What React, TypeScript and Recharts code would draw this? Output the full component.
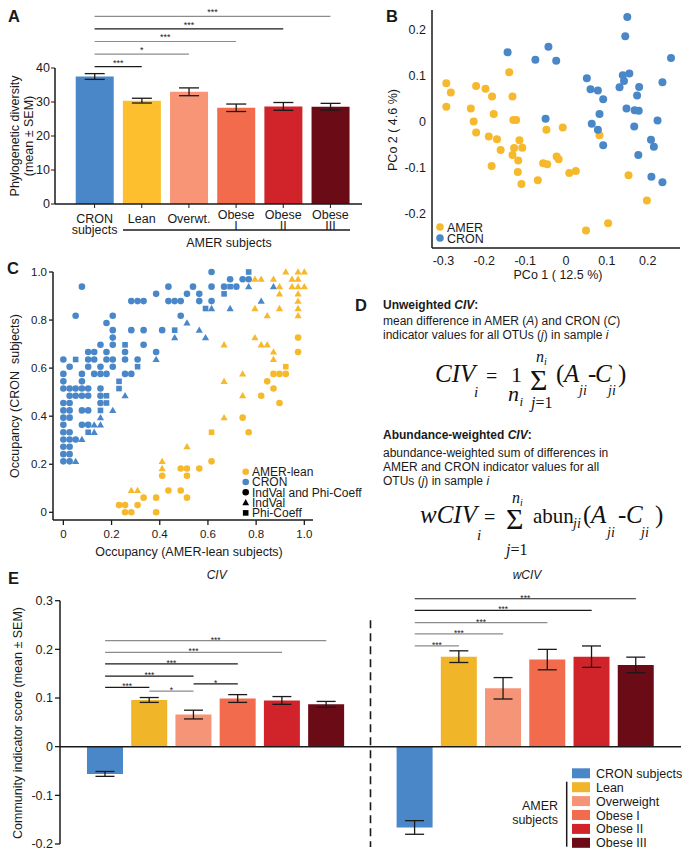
import React from 'react';
import {
  BarChart, Bar, Cell, XAxis, YAxis, ErrorBar, ReferenceLine,
  ScatterChart, Scatter,
} from 'recharts';

const SANS = '"Liberation Sans", Arial, Helvetica, sans-serif';
const SERIF = '"Liberation Serif", "Times New Roman", serif';
const INK = '#1a1a1a';
const BLUE = '#4a87c8';
const ORANGE = '#f7b92c';
const GRAY = '#8c8c8c';

// ---------- A: phylogenetic diversity ----------
const aGroups = ['CRON', 'Lean', 'Overwt.', 'Obese I', 'Obese II', 'Obese III'];
const aTickLines = [['CRON', 'subjects'], ['Lean'], ['Overwt.'], ['Obese', 'I'], ['Obese', 'II'], ['Obese', 'III']];
const aMeans = [37.5, 30.4, 33.0, 28.3, 28.7, 28.6];
const aSem = [0.85, 0.7, 1.15, 1.1, 1.15, 1.0];
const aColors = ['#4a87c8', '#fdbf2d', '#f79576', '#f26b4d', '#d1232a', '#6a0b16'];
const aSigTo = ['Lean', 'Overwt.', 'Obese I', 'Obese II', 'Obese III'];
const aSigStars = ['***', '*', '***', '***', '***'];
const aSigDark = [true, false, false, true, false];

// ---------- B: PCoA ----------
const bAmer = [
  [-0.293, 0.084], [-0.282, 0.064], [-0.293, 0.033], [-0.22, 0.078], [-0.197, 0.072], [-0.139, 0.108],
  [-0.181, 0.055], [-0.131, 0.055], [-0.233, 0.029], [-0.177, 0.017], [-0.226, 0.001], [-0.129, 0.004],
  [-0.122, 0.004], [-0.22, -0.023], [-0.189, -0.032], [-0.169, -0.038], [-0.16, -0.061], [-0.182, -0.096],
  [-0.114, -0.04], [-0.127, -0.057], [-0.107, -0.056], [-0.131, -0.072], [-0.117, -0.084], [-0.118, -0.109],
  [-0.109, -0.135], [-0.069, -0.127], [-0.048, -0.017], [-0.008, -0.012], [-0.056, -0.09], [-0.046, -0.092],
  [-0.023, -0.075], [-0.018, -0.081], [0.008, -0.111], [0.024, -0.107], [0.082, -0.029], [0.153, -0.116],
  [0.198, -0.171], [0.049, -0.236], [0.103, -0.22],
];
const bCron = [
  [0.15, 0.228], [0.145, 0.186], [0.257, 0.139], [-0.143, 0.151], [-0.043, 0.163], [-0.075, 0.135],
  [-0.024, 0.133], [0.051, 0.095], [0.139, 0.101], [0.155, 0.105], [0.142, 0.089], [0.131, 0.075],
  [0.179, 0.076], [0.236, 0.086], [0.06, 0.071], [0.078, 0.068], [0.091, 0.049], [0.174, 0.057],
  [0.148, 0.029], [0.168, 0.025], [0.178, 0.024], [0.082, 0.017], [-0.05, 0.007], [0.063, -0.004],
  [0.078, -0.017], [0.167, -0.01], [0.224, 0.003], [0.091, -0.051], [0.177, -0.072], [0.208, -0.039],
  [0.215, -0.054], [0.209, -0.119], [0.236, -0.131],
];

// ---------- C: occupancy of indicator OTUs ----------
const cCronCircle = [
  [0.615, 1.0], [0.692, 0.97], [0.744, 0.97], [0.769, 0.97],
  [0.077, 0.939], [0.436, 0.939], [0.538, 0.939], [0.615, 0.939], [0.667, 0.939], [0.718, 0.939],
  [0.385, 0.909], [0.513, 0.909], [0.564, 0.909],
  [0.282, 0.879], [0.308, 0.879], [0.333, 0.879], [0.436, 0.879], [0.462, 0.879], [0.487, 0.879], [0.564, 0.879], [0.615, 0.879],
  [0.051, 0.818], [0.205, 0.818], [0.487, 0.818], [0.179, 0.788],
  [0.205, 0.758], [0.282, 0.758], [0.333, 0.758], [0.41, 0.758], [0.205, 0.727],
  [0.154, 0.697], [0.205, 0.697], [0.333, 0.697],
  [0.103, 0.667], [0.128, 0.667], [0.179, 0.667], [0.256, 0.667], [0.385, 0.667],
  [0, 0.636], [0.103, 0.636], [0.128, 0.636], [0.179, 0.636], [0.205, 0.636], [0.256, 0.636], [0.308, 0.636],
  [0.026, 0.606], [0.103, 0.606], [0.154, 0.606], [0.205, 0.606],
  [0, 0.576], [0.077, 0.576], [0.128, 0.576], [0.154, 0.576], [0.179, 0.576], [0.256, 0.576], [0.282, 0.576],
  [0, 0.545], [0.077, 0.545],
  [0, 0.515], [0.026, 0.515], [0.051, 0.515], [0.077, 0.515], [0.103, 0.515], [0.154, 0.515],
  [0.026, 0.485], [0.051, 0.485], [0.077, 0.485], [0.103, 0.485], [0.154, 0.485],
  [0, 0.455], [0.026, 0.455], [0.154, 0.455],
  [0, 0.424], [0.026, 0.424], [0.077, 0.424], [0.103, 0.424],
  [0, 0.394], [0.026, 0.394], [0, 0.364], [0.077, 0.364], [0.103, 0.364],
  [0, 0.333], [0.026, 0.333], [0, 0.303], [0.026, 0.303], [0.051, 0.303],
  [0, 0.273], [0.026, 0.273], [0, 0.242], [0.026, 0.242], [0, 0.212], [0.026, 0.212],
];
const cCronTriangle = [
  [0.769, 0.939], [0.872, 0.939], [0.821, 0.879], [0.615, 0.848], [0.692, 0.848], [0.513, 0.788],
  [0.564, 0.758], [0.462, 0.727], [0.59, 0.727], [0.385, 0.636], [0.256, 0.485], [0.205, 0.424],
  [0.154, 0.394], [0.128, 0.364], [0.154, 0.364], [0.128, 0.333], [0.077, 0.303], [0.051, 0.212],
];
const cCronSquare = [
  [0.769, 1.0], [0.692, 0.939], [0.667, 0.909], [0.59, 0.848], [0.462, 0.758], [0.256, 0.697], [0.051, 0.636],
  [0.308, 0.606], [0.231, 0.545], [0.231, 0.515], [0.179, 0.485], [0.179, 0.455], [0.154, 0.424], [0.103, 0.333],
];
const cAmerCircle = [
  [0.974, 0.727], [0.974, 0.667], [0.872, 0.576], [0.897, 0.576], [0.923, 0.576], [0.846, 0.545], [0.872, 0.515],
  [0.821, 0.485], [0.897, 0.455], [0.744, 0.394], [0.769, 0.333], [0.615, 0.212], [0.487, 0.182], [0.513, 0.182],
  [0.564, 0.182], [0.41, 0.152], [0.513, 0.152], [0.436, 0.091], [0.487, 0.091], [0.333, 0.061], [0.385, 0.061],
  [0.513, 0.061], [0.231, 0.03], [0.256, 0.03], [0.308, 0.03], [0.256, 0], [0.282, 0], [0.385, 0],
];
const cAmerTriangle = [
  [0.923, 1.0], [0.974, 1.0], [1.0, 1.0], [0.795, 0.97], [0.821, 0.97], [0.872, 0.97], [0.949, 0.97], [0.974, 0.97],
  [0.897, 0.939], [0.949, 0.939], [0.974, 0.939], [1.0, 0.939], [0.897, 0.909], [0.974, 0.909], [0.974, 0.879],
  [0.795, 0.848], [0.897, 0.848], [0.974, 0.848], [0.846, 0.818], [0.974, 0.818], [0.795, 0.727],
  [0.667, 0.697], [0.821, 0.697], [0.846, 0.697], [0.872, 0.667], [0.872, 0.636], [0.744, 0.576], [0.667, 0.545],
  [0.744, 0.485], [0.667, 0.394], [0.513, 0.273], [0.41, 0.212], [0.41, 0.182], [0.282, 0.091], [0.308, 0.091],
];
const cAmerSquare = [[0.923, 0.606], [0.615, 0.333]];

// ---------- E: community indicator scores ----------
const eGroups = ['CRON subjects', 'Lean', 'Overweight', 'Obese I', 'Obese II', 'Obese III'];
const eColors = ['#4a87c8', '#f0b528', '#f59477', '#f26b4d', '#d1232a', '#6a0b16'];
const civMeans = [-0.056, 0.096, 0.066, 0.099, 0.095, 0.087];
const civSem = [0.005, 0.005, 0.009, 0.008, 0.008, 0.006];
const wcivMeans = [-0.166, 0.185, 0.12, 0.179, 0.185, 0.168];
const wcivSem = [0.014, 0.012, 0.022, 0.021, 0.022, 0.016];
const civSig = [
  { from: 0, to: 1, level: 0.122, stars: '***', dark: true },
  { from: 1, to: 2, level: 0.114, stars: '*', dark: false },
  { from: 2, to: 3, level: 0.129, stars: '*', dark: true },
  { from: 0, to: 2, level: 0.145, stars: '***', dark: true },
  { from: 0, to: 3, level: 0.17, stars: '***', dark: true },
  { from: 0, to: 4, level: 0.194, stars: '***', dark: false },
  { from: 0, to: 5, level: 0.218, stars: '***', dark: false },
];
const wcivSig = [
  { from: 0, to: 1, level: 0.207, stars: '***', dark: false },
  { from: 0, to: 2, level: 0.232, stars: '***', dark: false },
  { from: 0, to: 3, level: 0.255, stars: '***', dark: false },
  { from: 0, to: 4, level: 0.28, stars: '***', dark: true },
  { from: 0, to: 5, level: 0.304, stars: '***', dark: true },
];

const toPts = (arr: number[][]) => arr.map(([x, y]) => ({ x, y }));
const fmt1 = (v: number) => (v === 0 ? '0' : v.toFixed(1));

const axisStroke = { stroke: INK, strokeWidth: 1.5 };

function ATick(props: any) {
  const { x, y, payload } = props;
  const i = aGroups.indexOf(payload.value);
  const lines = aTickLines[i] || [payload.value];
  const axisY = y - 5;
  const first = lines.length === 1 ? 19.3 : i === 0 ? 18.6 : 14.6;
  return (
    <text textAnchor="middle" fontSize={12.5} fill={INK}>
      {lines.map((t, k) => (
        <tspan key={k} x={x} y={axisY + first + k * 11}>{t}</tspan>
      ))}
    </text>
  );
}

// rotated multi-line label centred on (cx, cy); lines stack to the right
const rotText = (cx: number, cy: number, lines: string[], size = 12.5, gap = 13.5) => (
  <text transform="rotate(-90)" textAnchor="middle" fontSize={size} fill={INK} style={{ whiteSpace: 'pre' }}>
    {lines.map((s, k) => (
      <tspan key={k} x={-cy} y={cx + k * gap + size * 0.35}>{s}</tspan>
    ))}
  </text>
);

function PanelA() {
  const data = aGroups.map((g, i) => ({ g, mean: aMeans[i], sem: aSem[i] }));
  return (
    <BarChart width={370} height={250} data={data} margin={{ top: 68, right: 8, bottom: 6, left: 0 }} barCategoryGap="10%">
      <XAxis dataKey="g" padding={{ left: 16, right: 8 }} height={40} tickSize={4} tickMargin={1}
        axisLine={axisStroke} tickLine={{ stroke: INK }} tick={<ATick />} interval={0} />
      <YAxis domain={[0, 40]} ticks={[0, 10, 20, 30, 40]} width={55} tickSize={4} tickMargin={1}
        axisLine={axisStroke} tickLine={{ stroke: INK }} tick={{ fontSize: 12.5, fill: INK }}
        label={() => rotText(15, 136, ['Phylogenetic diversity', '(mean ± SEM)'])} />
      <Bar dataKey="mean" isAnimationActive={false}>
        {data.map((d, i) => <Cell key={d.g} fill={aColors[i]} />)}
        <ErrorBar dataKey="sem" width={10} stroke={INK} strokeWidth={1.3} direction="y" />
      </Bar>
      {aSigTo.map((to, i) => (
        <ReferenceLine key={to} ifOverflow="visible" stroke={aSigDark[i] ? INK : GRAY} strokeWidth={1.2}
          segment={[{ x: 'CRON', y: 40.4 + i * 3.7 }, { x: to, y: 40.4 + i * 3.7 }]}
          label={{ value: aSigStars[i], position: 'top', offset: 1, fontSize: 9, fill: INK }} />
      ))}
    </BarChart>
  );
}

const dot = (r: number, fill: string) => (p: any) => <circle cx={p.cx} cy={p.cy} r={r} fill={fill} />;
const tri = (fill: string) => (p: any) => (
  <polygon points={`${p.cx},${p.cy - 3.7} ${p.cx - 3.6},${p.cy + 2.6} ${p.cx + 3.6},${p.cy + 2.6}`} fill={fill} />
);
const sq = (fill: string) => (p: any) => <rect x={p.cx - 2.8} y={p.cy - 2.8} width={5.6} height={5.6} fill={fill} />;

function PanelB() {
  return (
    <ScatterChart width={311} height={290} margin={{ top: 10, right: 11, bottom: 0, left: 0 }}>
      <XAxis type="number" dataKey="x" domain={[-0.328, 0.279]} ticks={[-0.3, -0.2, -0.1, 0, 0.1, 0.2]}
        tickFormatter={fmt1} height={42} tickLine={false} tickSize={4} tickMargin={4} axisLine={axisStroke}
        tick={{ fontSize: 12.5, fill: INK }}
        label={() => <text x={178} y={279} textAnchor="middle" fontSize={12.5} fill={INK}>PCo 1 ( 12.5 %)</text>} />
      <YAxis type="number" dataKey="y" domain={[-0.274, 0.243]} ticks={[-0.2, -0.1, 0, 0.1, 0.2]}
        tickFormatter={fmt1} width={52} tickLine={false} tickSize={2} tickMargin={4} axisLine={axisStroke}
        tick={{ fontSize: 12.5, fill: INK }}
        label={() => rotText(13, 130, ['PCo 2 ( 4.6 %)'])} />
      <Scatter data={toPts(bAmer)} isAnimationActive={false} shape={dot(4, ORANGE)} />
      <Scatter data={toPts(bCron)} isAnimationActive={false} shape={dot(4, BLUE)} />
    </ScatterChart>
  );
}

function PanelC() {
  return (
    <ScatterChart width={340} height={300} margin={{ top: 12, right: 27, bottom: 0, left: 0 }}>
      <XAxis type="number" dataKey="x" domain={[-0.043, 1.036]} ticks={[0, 0.2, 0.4, 0.6, 0.8, 1.0]}
        tickFormatter={fmt1} height={40} tickSize={5} tickMargin={5} axisLine={axisStroke} tickLine={{ stroke: INK, strokeWidth: 1.3 }}
        tick={{ fontSize: 11.5, fill: INK }}
        label={() => <text x={189} y={296} textAnchor="middle" fontSize={12.5} fill={INK}>Occupancy (AMER-lean subjects)</text>} />
      <YAxis type="number" dataKey="y" domain={[-0.032, 1.0]} ticks={[0, 0.2, 0.4, 0.6, 0.8, 1.0]}
        tickFormatter={fmt1} width={53} tickSize={4} tickMargin={2} axisLine={axisStroke} tickLine={{ stroke: INK, strokeWidth: 1.3 }}
        tick={{ fontSize: 11.5, fill: INK }}
        label={() => rotText(15, 136, ['Occupancy (CRON  subjects)'])} />
      <Scatter data={toPts(cCronCircle)} isAnimationActive={false} shape={dot(3.3, BLUE)} />
      <Scatter data={toPts(cCronTriangle)} isAnimationActive={false} shape={tri(BLUE)} />
      <Scatter data={toPts(cCronSquare)} isAnimationActive={false} shape={sq(BLUE)} />
      <Scatter data={toPts(cAmerCircle)} isAnimationActive={false} shape={dot(3.3, ORANGE)} />
      <Scatter data={toPts(cAmerTriangle)} isAnimationActive={false} shape={tri(ORANGE)} />
      <Scatter data={toPts(cAmerSquare)} isAnimationActive={false} shape={sq(ORANGE)} />
    </ScatterChart>
  );
}

function PanelE() {
  const data = [
    ...civMeans.map((v, i) => ({ key: `civ${i}`, g: i, value: v, err: civSem[i] })),
    { key: 'gap', g: -1, value: null, err: null },
    ...wcivMeans.map((v, i) => ({ key: `wciv${i}`, g: i, value: v, err: wcivSem[i] })),
  ];
  const sigLines = [
    ...civSig.map((s) => ({ ...s, pre: 'civ' })),
    ...wcivSig.map((s) => ({ ...s, pre: 'wciv' })),
  ];
  return (
    <BarChart width={691} height={273} data={data} margin={{ top: 15.7, right: 10, bottom: 14, left: 0 }} barCategoryGap="9%">
      <XAxis dataKey="key" hide padding={{ left: 23, right: 23 }} />
      <YAxis domain={[-0.2, 0.3]} ticks={[-0.2, -0.1, 0, 0.1, 0.2, 0.3]} tickFormatter={fmt1} width={60}
        tickSize={5} tickMargin={2} axisLine={axisStroke} tickLine={{ stroke: INK, strokeWidth: 1.3 }}
        tick={{ fontSize: 12.5, fill: INK }}
        label={() => rotText(17.5, 138, ['Community indicator score (mean ± SEM)'])} />
      <ReferenceLine y={0} stroke={INK} strokeWidth={1.5} />
      <ReferenceLine ifOverflow="visible" stroke={INK} strokeWidth={1.6} strokeDasharray="8 5"
        segment={[{ x: 'gap', y: 0.26 }, { x: 'gap', y: -0.206 }]} />
      <Bar dataKey="value" isAnimationActive={false}>
        {data.map((d) => <Cell key={d.key} fill={d.g >= 0 ? eColors[d.g] : 'none'} />)}
        <ErrorBar dataKey="err" width={9.5} stroke={INK} strokeWidth={1.3} direction="y" />
      </Bar>
      {sigLines.map((s) => (
        <ReferenceLine key={`${s.pre}${s.from}-${s.to}`} ifOverflow="visible" stroke={s.dark ? INK : GRAY} strokeWidth={1.2}
          segment={[{ x: `${s.pre}${s.from}`, y: s.level }, { x: `${s.pre}${s.to}`, y: s.level }]}
          label={{ value: s.stars, position: 'top', offset: -2, fontSize: 8.5, fill: INK }} />
      ))}
    </BarChart>
  );
}

function Overlay() {
  const it = { fontStyle: 'italic' } as const;
  const legendRows = [773.3, 787.2, 801.1, 815, 828.9, 842.8];
  const cLegend = [
    { label: 'AMER-lean', shape: 'circle', color: ORANGE },
    { label: 'CRON', shape: 'circle', color: BLUE },
    { label: 'IndVal and Phi-Coeff', shape: 'circle', color: '#000' },
    { label: 'IndVal', shape: 'triangle', color: '#000' },
    { label: 'Phi-Coeff', shape: 'square', color: '#000' },
  ];
  const cRow = (k: number) => 471.7 + k * 10.3;
  return (
    <svg width={691} height={858} style={{ position: 'absolute', left: 0, top: 0, pointerEvents: 'none' }}
      fontFamily={SANS} fill={INK}>
      {/* panel letters */}
      <g fontWeight="bold" fontSize={16.5}>
        <text x={8} y={22}>A</text>
        <text x={386} y={22}>B</text>
        <text x={7} y={274}>C</text>
        <text x={355} y={311}>D</text>
        <text x={8} y={584}>E</text>
      </g>

      {/* A: AMER bracket */}
      <line x1={123} x2={350} y1={230} y2={230} stroke={INK} strokeWidth={1.3} />
      <text x={229} y={247} textAnchor="middle" fontSize={12.5}>AMER subjects</text>

      {/* B legend */}
      <circle cx={440} cy={227} r={3.8} fill={ORANGE} />
      <circle cx={440} cy={238} r={3.8} fill={BLUE} />
      <text fontSize={12.5}>
        <tspan x={447} y={231.5}>AMER</tspan>
        <tspan x={447} y={242.5}>CRON</tspan>
      </text>

      {/* C legend */}
      {cLegend.map((row, k) => {
        const cy = cRow(k);
        const cx = 245.7;
        if (row.shape === 'triangle') {
          return <polygon key={row.label} points={`${cx},${cy - 3.5} ${cx - 3.4},${cy + 2.6} ${cx + 3.4},${cy + 2.6}`} fill={row.color} />;
        }
        if (row.shape === 'square') {
          return <rect key={row.label} x={cx - 2.8} y={cy - 2.8} width={5.6} height={5.6} fill={row.color} />;
        }
        return <circle key={row.label} cx={cx} cy={cy} r={3.3} fill={row.color} />;
      })}
      <text fontSize={12}>
        {cLegend.map((row, k) => (
          <tspan key={row.label} x={252} y={cRow(k) + 4.3}>{row.label}</tspan>
        ))}
      </text>

      {/* D text */}
      <g fontSize={12}>
        <text x={383} y={309} fontWeight="bold">Unweighted <tspan style={it}>CIV</tspan>:</text>
        <text x={383} y={325}>mean difference in AMER (<tspan style={it}>A</tspan>) and CRON (<tspan style={it}>C</tspan>)</text>
        <text x={383} y={339}>indicator values for all OTUs (<tspan style={it}>j</tspan>) in sample <tspan style={it}>i</tspan></text>
        <text x={383} y={439} fontWeight="bold">Abundance-weighted <tspan style={it}>CIV</tspan>:</text>
        <text x={383} y={457}>abundance-weighted sum of differences in</text>
        <text x={383} y={471}>AMER and CRON indicator values for all</text>
        <text x={383} y={485}>OTUs (<tspan style={it}>j</tspan>) in sample <tspan style={it}>i</tspan></text>
      </g>

      {/* D formula 1 */}
      <text fontFamily={SERIF} fill="#111">
        <tspan x={435} y={382} fontSize={25} style={it}>CIV</tspan>
        <tspan x={474} y={397} fontSize={15} style={it}>i</tspan>
        <tspan x={486} y={383} fontSize={20}>=</tspan>
        <tspan x={511} y={382} fontSize={22}>1</tspan>
        <tspan x={508} y={401} fontSize={22} style={it}>n</tspan>
        <tspan x={519.5} y={406} fontSize={13} style={it}>i</tspan>
        <tspan x={530} y={390} fontSize={30}>Σ</tspan>
        <tspan x={536} y={362} fontSize={16} style={it}>n</tspan>
        <tspan x={544} y={365} fontSize={10} style={it}>i</tspan>
        <tspan x={531} y={408} fontSize={16} style={it}>j</tspan>
        <tspan fontSize={16}>=1</tspan>
        <tspan x={556} y={382} fontSize={25}>(</tspan>
        <tspan x={564} y={382} fontSize={25} style={it}>A</tspan>
        <tspan x={579} y={395} fontSize={14} style={it}>ji</tspan>
        <tspan x={588} y={382} fontSize={25}>-</tspan>
        <tspan x={595} y={382} fontSize={25} style={it}>C</tspan>
        <tspan x={608} y={395} fontSize={14} style={it}>ji</tspan>
        <tspan x={618} y={382} fontSize={25}>)</tspan>
      </text>

      {/* D formula 2 */}
      <text fontFamily={SERIF} fill="#111">
        <tspan x={420} y={523} fontSize={25} style={it}>wCIV</tspan>
        <tspan x={477} y={540} fontSize={15} style={it}>i</tspan>
        <tspan x={484} y={524} fontSize={20}>=</tspan>
        <tspan x={506} y={529} fontSize={30}>Σ</tspan>
        <tspan x={512} y={503} fontSize={16} style={it}>n</tspan>
        <tspan x={520} y={506} fontSize={10} style={it}>i</tspan>
        <tspan x={506} y={555} fontSize={16} style={it}>j</tspan>
        <tspan fontSize={16}>=1</tspan>
        <tspan x={533} y={523} fontSize={21}>abun</tspan>
        <tspan x={573} y={528} fontSize={14} style={it}>ji</tspan>
        <tspan x={583} y={523} fontSize={25}>(</tspan>
        <tspan x={591} y={523} fontSize={25} style={it}>A</tspan>
        <tspan x={607} y={537} fontSize={14} style={it}>ji</tspan>
        <tspan x={618} y={523} fontSize={25}>-</tspan>
        <tspan x={626} y={523} fontSize={25} style={it}>C</tspan>
        <tspan x={641} y={537} fontSize={14} style={it}>ji</tspan>
        <tspan x={655} y={523} fontSize={25}>)</tspan>
      </text>

      {/* E titles */}
      <text x={216.7} y={579} textAnchor="middle" fontSize={12} style={it}>CIV</text>
      <text x={527} y={579} textAnchor="middle" fontSize={12} style={it}>wCIV</text>

      {/* E legend */}
      {eGroups.map((g, k) => (
        <rect key={g} x={572} y={legendRows[k] - 5} width={18} height={10} fill={eColors[k]} />
      ))}
      <text fontSize={12.5}>
        {eGroups.map((g, k) => (
          <tspan key={g} x={596} y={legendRows[k] + 4.5}>{g}</tspan>
        ))}
      </text>
      <line x1={566.7} x2={566.7} y1={781.7} y2={846.7} stroke={INK} strokeWidth={1.5} />
      <text textAnchor="end" fontSize={12.5}>
        <tspan x={558} y={810}>AMER</tspan>
        <tspan x={558} y={824}>subjects</tspan>
      </text>
    </svg>
  );
}

export default function App() {
  return (
    <div style={{ position: 'absolute', left: 0, top: 0, width: 691, height: 858, background: '#fff', fontFamily: SANS, overflow: 'hidden', color: INK }}>
      <div style={{ position: 'absolute', left: 0, top: 0 }}><PanelA /></div>
      <div style={{ position: 'absolute', left: 380, top: 0 }}><PanelB /></div>
      <div style={{ position: 'absolute', left: 0, top: 260 }}><PanelC /></div>
      <div style={{ position: 'absolute', left: 0, top: 585 }}><PanelE /></div>
      <Overlay />
    </div>
  );
}
